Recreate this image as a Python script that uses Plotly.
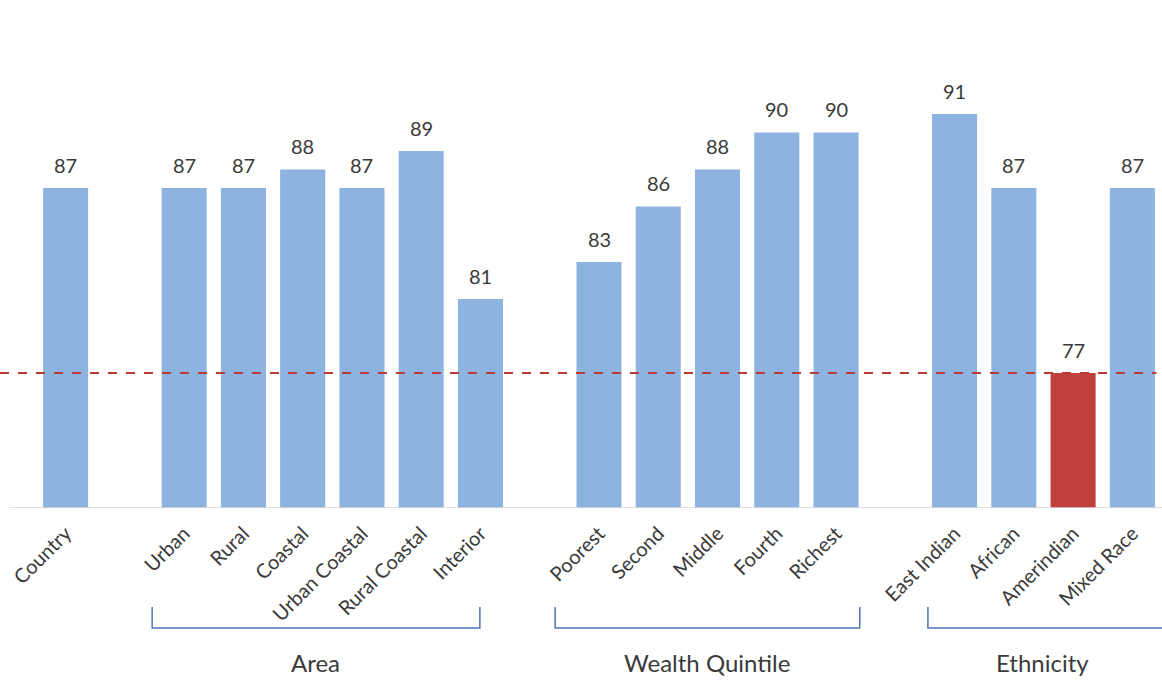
import plotly.graph_objects as go

# Categories (blank slots separate the groups)
categories = ["Country", "",
              "Urban", "Rural", "Coastal", "Urban Coastal", "Rural Coastal", "Interior", " ",
              "Poorest", "Second", "Middle", "Fourth", "Richest", "  ",
              "East Indian", "African", "Amerindian", "Mixed Race"]
values = [87, None,
          87, 87, 88, 87, 89, 81, None,
          83, 86, 88, 90, 90, None,
          91, 87, 77, 87]
highlight = "Amerindian"
reference_value = 77

groups = ["Area", "Wealth Quintile", "Ethnicity"]
group_spans = [(1.46, 6.99), (8.26, 13.40), (14.55, 19.5)]
group_centers = [4.21, 10.82, 16.49]

BLUE = "#8DB3E0"
RED = "#C0403D"
TEXT = "#3a3a3a"
FONT = "Lato"

xs = list(range(len(categories)))
bar_x = [x for x, v in zip(xs, values) if v is not None]
bar_y = [v for v in values if v is not None]
bar_c = [RED if categories[x] == highlight else BLUE for x in bar_x]

fig = go.Figure()
fig.add_trace(go.Bar(x=bar_x, y=bar_y, marker=dict(color=bar_c, line=dict(width=0)),
                     width=0.76, hoverinfo="skip"))

annotations = []
for x, v in zip(bar_x, bar_y):
    annotations.append(dict(x=x, y=v, text=str(v), showarrow=False, yanchor="bottom",
                            yshift=9, font=dict(family=FONT, size=20, color=TEXT)))
for name, cx in zip(groups, group_centers):
    annotations.append(dict(x=cx, y=-0.331, yref="paper", yanchor="middle", text=name,
                            showarrow=False, font=dict(family=FONT, size=24, color=TEXT)))

shapes = [
    # baseline
    dict(type="line", xref="paper", yref="y", x0=-0.024, x1=1, y0=69.7, y1=69.7,
         line=dict(color="#d4d4d4", width=1.5)),
    # reference line
    dict(type="line", xref="paper", yref="y", x0=-0.032, x1=0.995,
         y0=reference_value, y1=reference_value,
         line=dict(color="#BC3A36", width=2, dash="dash")),
]
for x0, x1 in group_spans:
    shapes.append(dict(type="path", xref="x", yref="paper",
                       path=f"M {x0},-0.2115 L {x0},-0.2564 L {x1},-0.2564 L {x1},-0.2115",
                       line=dict(color="#4F74B8", width=1.5)))

fig.update_layout(
    width=1162, height=694,
    margin=dict(l=36, r=0, t=40, b=186),
    paper_bgcolor="white", plot_bgcolor="white",
    showlegend=False,
    annotations=annotations,
    shapes=shapes,
    xaxis=dict(range=[-0.5, 18.5], tickmode="array", tickvals=xs, ticktext=categories,
               tickangle=-45, showgrid=False, zeroline=False, showline=False,
               tickfont=dict(family=FONT, size=20, color=TEXT), ticks="",
               ticklabelstandoff=9),
    yaxis=dict(range=[69.7, 95], visible=False, showgrid=False),
)

fig.write_html("out.html")
